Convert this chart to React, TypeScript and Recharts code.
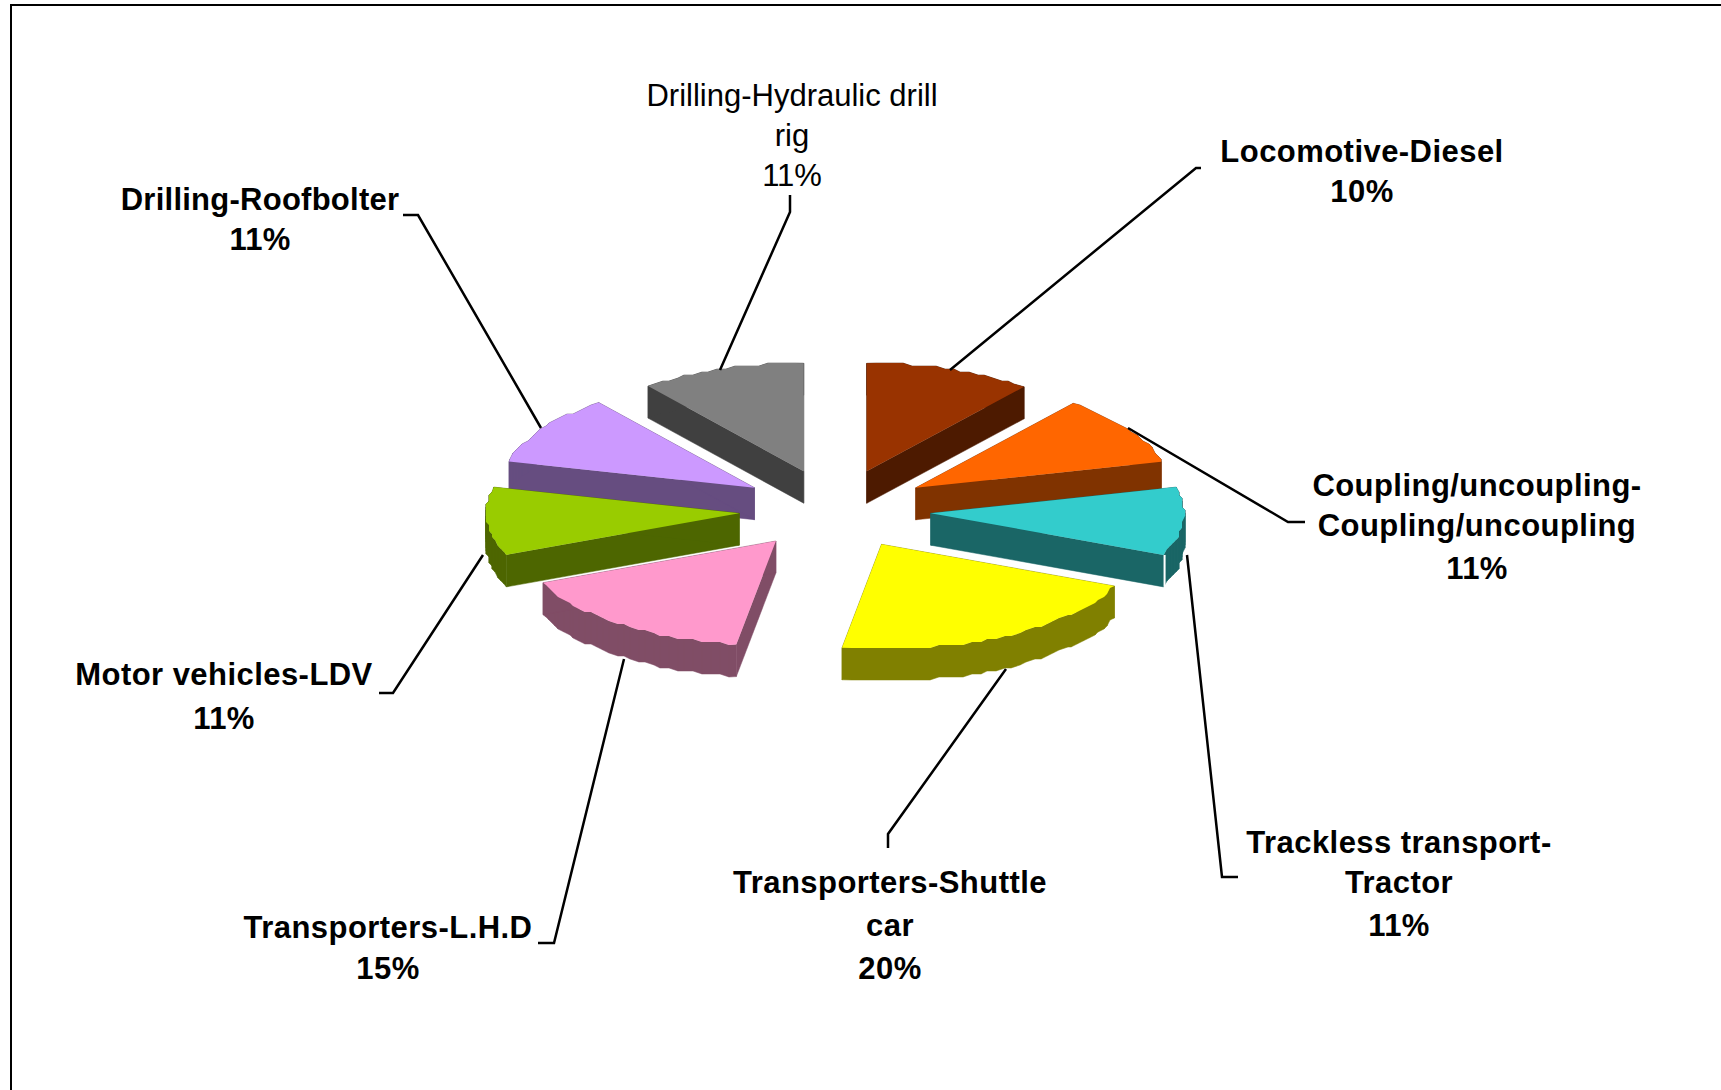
import React from "react";
import { PieChart, Pie } from "recharts";

// ---- data ----
const categories = [
  "Locomotive-Diesel",
  "Coupling/uncoupling-Coupling/uncoupling",
  "Trackless transport-Tractor",
  "Transporters-Shuttle car",
  "Transporters-L.H.D",
  "Motor vehicles-LDV",
  "Drilling-Roofbolter",
  "Drilling-Hydraulic drill rig",
];
const shares = [10, 11, 11, 20, 15, 11, 11, 11];
const labelLines = [
  ["Locomotive-Diesel"],
  ["Coupling/uncoupling-", "Coupling/uncoupling"],
  ["Trackless transport-", "Tractor"],
  ["Transporters-Shuttle", "car"],
  ["Transporters-L.H.D"],
  ["Motor vehicles-LDV"],
  ["Drilling-Roofbolter"],
  ["Drilling-Hydraulic drill", "rig"],
];

// ---- styling / layout ----
const topColors = ["#993300", "#FF6600", "#33CCCC", "#FFFF00", "#FF99CC", "#99CC00", "#CC99FF", "#808080"];
const sideColors = ["#4D1A00", "#803300", "#1A6666", "#808000", "#804D66", "#4D6600", "#664D80", "#404040"];
const drawOrder = [7, 0, 6, 1, 5, 2, 4, 3];
// baselines of each label's lines, centre x
const labelPos = [
  { x: 1362, ys: [162, 202] },
  { x: 1477, ys: [496, 536, 579] },
  { x: 1399, ys: [853, 893, 936] },
  { x: 890, ys: [893, 936, 979] },
  { x: 388, ys: [938, 979] },
  { x: 224, ys: [685, 729] },
  { x: 260, ys: [210, 250] },
  { x: 792, ys: [106, 146, 186] },
];
const labelSpacing = [0.45, 0.45, 0.45, 0.45, 0.45, 0.45, 0.25, 0];
const leaders = [
  "1201,168 1196,168 950,370",
  "1305,522 1288,522 1128,428",
  "1238,877 1222,877 1187,555",
  "888,848 888,834 1006,669",
  "538,943 554,943 624,659",
  "379,693 393,693 483,555",
  "403,215 418,215 541,428",
  "790,195 790,212 720,370",
];
const CX = 835;
const CY = 510;
const RX = 253;
const SQUASH = 0.427;
const EXPLODE = 96;
const DEPTH = 32;
const GRID = 3;
const ARC_STEP = 2;
const FRONT_EXPLODE_SHRINK = 0.05;
const FRONT_ARC_SHRINK = 0.03;

// the picture's 3D perspective bends the slice boundaries a little
const warpIn = [0, 36, 75.6, 115.2, 187.2, 241.2, 280.8, 320.4, 360];
const warpOut = [0, 38.5, 76, 113, 189, 247, 284, 322, 360];
function warp(t: number) {
  for (let i = 0; i < warpIn.length - 1; i++) {
    if (t <= warpIn[i + 1] + 1e-6) {
      const f = (t - warpIn[i]) / (warpIn[i + 1] - warpIn[i]);
      return warpOut[i] + f * (warpOut[i + 1] - warpOut[i]);
    }
  }
  return t;
}

const rad = (d: number) => (d * Math.PI) / 180;
const depthY = (r: number, t: number, shrink: number) => {
  const c = Math.cos(rad(t));
  return r * SQUASH * c * (c < 0 ? 1 - shrink * Math.abs(c) : 1);
};

function slicePoints(startAngle: number, endAngle: number) {
  // recharts angles: degrees counter-clockwise from 3 o'clock
  const a = warp(90 - startAngle);
  const b = warp(90 - endAngle);
  const m = (a + b) / 2;
  const ax = CX + EXPLODE * Math.sin(rad(m));
  const ay = CY - depthY(EXPLODE, m, FRONT_EXPLODE_SHRINK);
  const at = (t: number): [number, number] => [
    ax + RX * Math.sin(rad(t)),
    ay - depthY(RX, t, FRONT_ARC_SHRINK),
  ];
  const arc: [number, number][] = [at(a)];
  for (let t = a + ARC_STEP; t < b - ARC_STEP / 2; t += ARC_STEP) {
    const [x, y] = at(t);
    arc.push([Math.round(x / GRID) * GRID, Math.round(y / GRID) * GRID]);
  }
  arc.push(at(b));
  return { apex: [ax, ay] as [number, number], arc };
}

const toPath = (pts: [number, number][]) =>
  "M" + pts.map((p) => `${p[0].toFixed(1)},${p[1].toFixed(1)}`).join("L") + "Z";

function Slice({ index, startAngle, endAngle }: any) {
  const { apex, arc } = slicePoints(startAngle, endAngle);
  const poly: [number, number][] = [apex, ...arc];
  const sides = poly.map((p, i) => {
    const q = poly[(i + 1) % poly.length];
    return toPath([p, q, [q[0], q[1] + DEPTH], [p[0], p[1] + DEPTH]]);
  });
  const corner = arc[arc.length - 1];
  return (
    <g>
      {sides.map((d, i) => (
        <path key={i} d={d} fill={sideColors[index]} stroke={sideColors[index]} strokeWidth={0.5} />
      ))}
      <path d={toPath(poly)} fill={topColors[index]} />
      {index === 2 && (
        <line
          x1={corner[0] + 1}
          y1={corner[1]}
          x2={corner[0] + 1}
          y2={corner[1] + DEPTH}
          stroke="#fff"
          strokeWidth={2}
        />
      )}
    </g>
  );
}

function Label({ index, value }: any) {
  const pos = labelPos[index];
  const lines = [...labelLines[index], `${value}%`];
  return (
    <g>
      <polyline points={leaders[index]} fill="none" stroke="#000" strokeWidth={2.5} />
      <text
        textAnchor="middle"
        fontFamily="'Liberation Sans', Arial, sans-serif"
        fontSize={31}
        fontWeight={index === 7 ? 400 : 700}
        letterSpacing={labelSpacing[index]}
        fill="#000"
      >
        {lines.map((l, i) => (
          <tspan key={i} x={pos.x} y={pos.ys[i]}>
            {l}
          </tspan>
        ))}
      </text>
    </g>
  );
}

const data = categories.map((name, i) => ({ name, value: shares[i] }));
const pieProps = {
  data,
  dataKey: "value",
  nameKey: "name",
  cx: CX,
  cy: CY,
  innerRadius: 0,
  outerRadius: RX,
  startAngle: 90,
  endAngle: -270,
  stroke: "none",
  isAnimationActive: false,
  legendType: "none" as const,
};

export default function App() {
  return (
    <div style={{ position: "absolute", left: 0, top: 0, width: 1721, height: 1090, background: "#fff", overflow: "hidden" }}>
      <div
        style={{
          position: "absolute",
          left: 10,
          top: 4,
          width: 1711,
          height: 1086,
          borderTop: "2.5px solid #000",
          borderLeft: "2.5px solid #000",
          boxSizing: "border-box",
        }}
      />
      <div style={{ position: "absolute", left: 0, top: 0 }}>
        <PieChart width={1721} height={1090} margin={{ top: 0, right: 0, bottom: 0, left: 0 }}>
          {drawOrder.map((which) => (
            <Pie
              key={which}
              {...pieProps}
              shape={(p: any) => (p.index === which ? <Slice {...p} /> : <g />)}
            />
          ))}
          <Pie {...pieProps} shape={() => <g />} label={(p: any) => <Label {...p} />} labelLine={false} />
        </PieChart>
      </div>
    </div>
  );
}
